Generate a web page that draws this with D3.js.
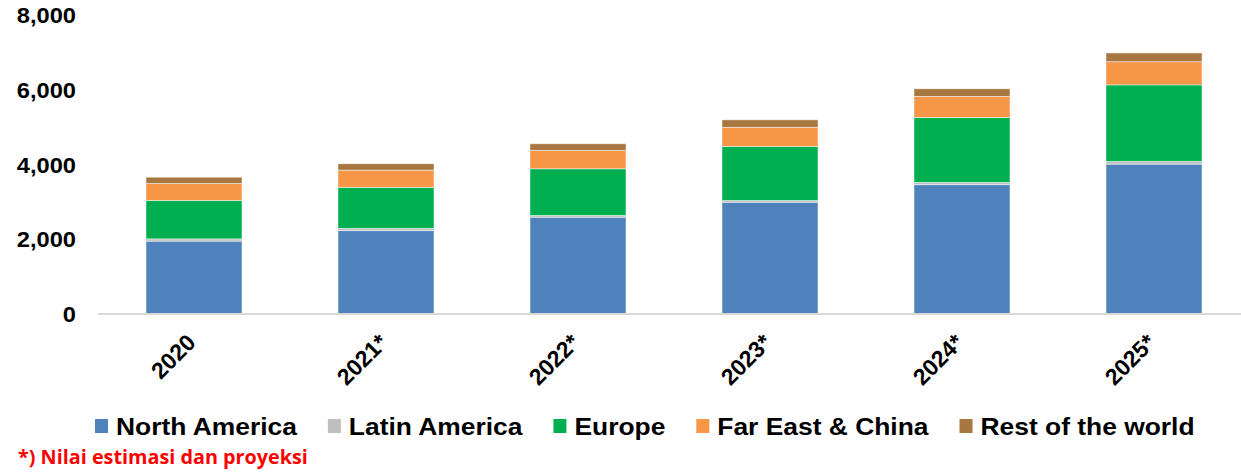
<!DOCTYPE html>
<html>
<head>
<meta charset="utf-8">
<script src="https://cdn.jsdelivr.net/npm/d3@7/dist/d3.min.js"></script>
<style>
  html, body { margin: 0; padding: 0; background: #fff; }
  svg { display: block; }
</style>
</head>
<body>
<svg id="chart" width="1241" height="476"></svg>
<script>
// Years on the category axis (* = estimate / projection)
const years = ["2020", "2021*", "2022*", "2023*", "2024*", "2025*"];

// Regional values per year, bottom to top of each stack
const northAmerica = [1950, 2230, 2590, 2990, 3460, 4010];
const latinAmerica = [60, 60, 45, 45, 60, 70];
const europe       = [1030, 1100, 1250, 1450, 1740, 2050];
const farEastChina = [450, 460, 490, 510, 560, 620];
const restOfWorld  = [170, 170, 180, 200, 205, 235];

const seriesNames = ["North America", "Latin America", "Europe", "Far East & China", "Rest of the world"];
const seriesValues = [northAmerica, latinAmerica, europe, farEastChina, restOfWorld];
const seriesColors = ["#4F81BD", "#BFBFBF", "#00B050", "#F79646", "#A8773F"];

const yTicks = [0, 2000, 4000, 6000, 8000];
const footnote = "*) Nilai estimasi dan proyeksi";

const svg = d3.select("#chart");
const FONT = "'Liberation Sans', Arial, sans-serif";

// Build rows for d3.stack
const rows = years.map((y, i) => {
  const r = { year: y };
  seriesNames.forEach((n, k) => { r[n] = seriesValues[k][i]; });
  return r;
});
const stacked = d3.stack().keys(seriesNames)(rows);

const x = d3.scaleBand().domain(years).range([98, 1250]).paddingInner(0.5).paddingOuter(0.25);
const y = d3.scaleLinear().domain([0, 8000]).range([314, 15]);
const color = d3.scaleOrdinal().domain(seriesNames).range(seriesColors);

// Stacked bars
svg.append("g").selectAll("g")
  .data(stacked)
  .join("g")
    .attr("fill", d => color(d.key))
  .selectAll("rect")
  .data(d => d)
  .join("rect")
    .attr("x", d => x(d.data.year))
    .attr("width", x.bandwidth())
    .attr("y", d => y(d[1]))
    .attr("height", d => y(d[0]) - y(d[1]))
    .attr("stroke", "#ffffff")
    .attr("stroke-opacity", 0.6)
    .attr("stroke-width", 0.8);

// Baseline
svg.append("line")
  .attr("x1", 98).attr("x2", 1241)
  .attr("y1", y(0)).attr("y2", y(0))
  .attr("stroke", "#D9D9D9").attr("stroke-width", 2);

// Y axis labels (slightly widened bold face)
const yAxis = d3.axisLeft(y).tickValues(yTicks).tickSize(0).tickPadding(0)
  .tickFormat(d3.format(","));
const yg = svg.append("g").attr("transform", "translate(76,0)").call(yAxis);
yg.select(".domain").remove();
yg.selectAll("text")
  .attr("font-family", FONT).attr("font-weight", "bold").attr("font-size", 21.5)
  .attr("fill", "#000").attr("dy", "0.36em").attr("x", 0)
  .attr("transform", "scale(1.1,1)");

// X axis labels, rotated
svg.append("g").selectAll("text")
  .data(years)
  .join("text")
    .attr("transform", d => `translate(${x(d) + x.bandwidth() / 2 + 3},344) rotate(-45)`)
    .attr("text-anchor", "end")
    .attr("font-family", FONT).attr("font-weight", "bold").attr("font-size", 23)
    .attr("fill", "#000")
    .text(d => d);

// Legend
const legend = svg.append("g").attr("transform", "translate(95,0)");
const textScale = 1.1;
let lx = 0;
seriesNames.forEach((n, k) => {
  const g = legend.append("g").attr("transform", `translate(${lx},0)`);
  g.append("rect").attr("x", 0).attr("y", 419).attr("width", 13).attr("height", 14)
    .attr("fill", seriesColors[k]);
  const t = g.append("text")
    .attr("transform", `translate(21,434.5) scale(${textScale},1)`)
    .attr("font-family", FONT).attr("font-weight", "bold").attr("font-size", 24)
    .attr("fill", "#000").text(n);
  const w = t.node().getComputedTextLength() * textScale;
  lx += 21 + w + 31;
});

// Footnote
svg.append("text")
  .attr("x", 18).attr("y", 464)
  .attr("font-family", "'Open Sans', sans-serif").attr("font-weight", "bold").attr("font-size", 19.8)
  .attr("fill", "#FF0000")
  .text(footnote);
</script>
</body>
</html>
